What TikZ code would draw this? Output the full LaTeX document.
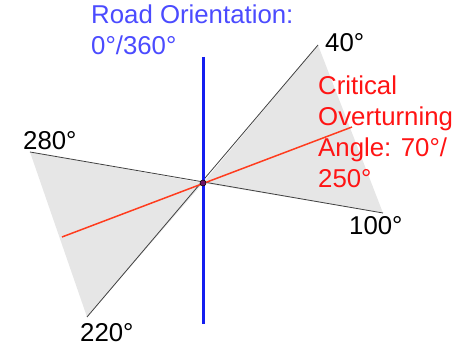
\documentclass[tikz,border=0pt]{standalone}
\usepackage{fontspec}
\setmainfont{Liberation Sans}
\definecolor{roadblue}{RGB}{20,30,240}
\definecolor{textblue}{RGB}{75,75,255}
\definecolor{critred}{RGB}{255,20,20}
\definecolor{linered}{RGB}{255,60,30}
\definecolor{sectorgray}{RGB}{230,230,230}
\definecolor{dotpurple}{RGB}{110,20,100}
\begin{document}
\begin{tikzpicture}[x=1pt,y=-1pt,
  lbl/.style={anchor=base west, inner sep=0pt, font=\fontsize{25.8}{31}\selectfont},
  sector/.style={fill=sectorgray},
  edge/.style={draw=black!75, line width=0.8pt},
  crit/.style={draw=linered, line width=1.5pt},
  road/.style={draw=roadblue, line width=3pt},
  pivot/.style={circle, fill=dotpurple, draw=black, line width=0.5pt, minimum size=6pt, inner sep=0pt}]
\useasboundingbox (0,0) rectangle (461,347);
\coordinate (O) at (203,183);
\coordinate (A40) at (318,45);
\coordinate (A100) at (383,213);
\coordinate (A280) at (30,152);
\coordinate (A220) at (87,317);
\coordinate (R1) at (352,127);
\coordinate (R2) at (62,237);
\coordinate (B1) at (203,57);
\coordinate (B2) at (203,324);
\fill[sector] (O) -- (A40) -- (A100) -- cycle;
\fill[sector] (O) -- (A280) -- (A220) -- cycle;
\draw[edge] (A280) -- (A100);
\draw[edge] (A220) -- (A40);
\draw[crit] (R2) -- (R1);
\draw[road] (B1) -- (B2);
\node[pivot] (P) at (O) {};
\node[lbl, text=textblue] (t1) at (91,24) {Road Orientation:};
\node[lbl, text=textblue] (t2) at (91,55) {0°/360°};
\node[lbl, text=critred] (c1) at (318,95) {Critical};
\node[lbl, text=critred] (c2) at (318,126) {Overturning};
\node[lbl, text=critred] (c3) at (318,157) {Angle: 70°/};
\node[lbl, text=critred] (c4) at (318,188) {250°};
\node[lbl] (l40) at (325,52) {40°};
\node[lbl] (l280) at (23,150) {280°};
\node[lbl] (l100) at (349,235) {100°};
\node[lbl] (l220) at (80,342) {220°};
\end{tikzpicture}
\end{document}
